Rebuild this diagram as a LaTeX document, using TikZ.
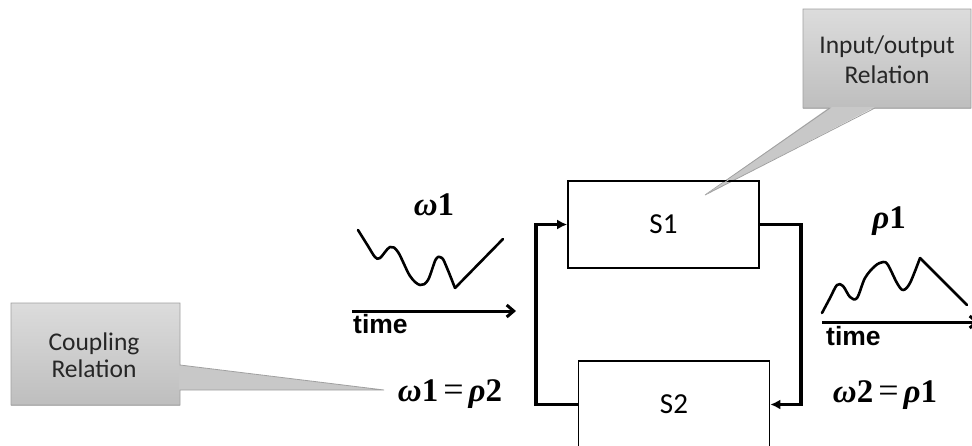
\documentclass[tikz,border=0pt]{standalone}
\usepackage{fontspec}
\setmainfont{Carlito}
\newfontfamily\serifgr{Liberation Serif}
\newfontfamily\axisfont{Liberation Sans}
\usetikzlibrary{arrows.meta}

\definecolor{calloutTop}{HTML}{DCDCDC}
\definecolor{calloutBot}{HTML}{BEBEBE}
\definecolor{calloutMid}{HTML}{C8C8C8}
\definecolor{calloutEdge}{HTML}{A0A0A0}

% signal symbol: bold italic Greek letter followed by a bold index
\newcommand{\sigsym}[2]{{\serifgr\bfseries\itshape #1}{\serifgr\bfseries #2}}
% equals sign with the spacing used in the coupling equations
\newcommand{\sigeq}{\hspace{5pt}{\serifgr\fontsize{36}{36}\selectfont=}\hspace{5pt}}

\begin{document}
\begin{tikzpicture}[x=1pt,y=-1pt,
  sysbox/.style={draw, line width=1.6pt, minimum width=191pt, minimum height=87pt,
    inner sep=0pt, font=\fontsize{29}{30}\selectfont},
  wire/.style={line width=3.8pt, -{Latex[length=10pt,width=10pt]}},
  timeaxis/.style={line width=3pt, -{Straight Barb[length=7pt,width=12pt]}},
  timelabel/.style={inner sep=0pt, font=\axisfont\bfseries\fontsize{26.5}{27}\selectfont},
  signal/.style={line width=2.6pt, line join=round, line cap=round},
  siglabel/.style={inner sep=0pt, font=\fontsize{33}{34}\selectfont},
  callouttext/.style={align=center, inner sep=0pt, text=black!85, font=\fontsize{25.5}{30}\selectfont},
  calloutline/.style={draw=calloutEdge, line width=0.8pt, line join=miter}
]
\useasboundingbox (0,0) rectangle (972,445);
\clip (0,0) rectangle (972,445);

% ---- input/output relation callout
\fill[top color=calloutTop, bottom color=calloutBot] (803,9) rectangle (971,108);
\fill[calloutMid] (830,107) -- (705,195) -- (875,107) -- cycle;
\draw[calloutline] (803,9) -- (971,9) -- (971,108) -- (875,108) -- (705,195)
  -- (830,108) -- (803,108) -- cycle;
\node[callouttext] (io) at (887,60) {Input/output\\Relation};

% ---- coupling relation callout
\fill[top color=calloutTop, bottom color=calloutBot] (11,303) rectangle (180,405);
\fill[calloutMid] (179,365) -- (384,390) -- (179,390) -- cycle;
\draw[calloutline] (11,303) -- (180,303) -- (180,365) -- (384,390) -- (180,390)
  -- (180,405) -- (11,405) -- cycle;
\node[callouttext, font=\fontsize{25.5}{27}\selectfont] (cp) at (94,355) {Coupling\\Relation};

% ---- the two systems
\node[sysbox] (s1) at (663.5,224.5) {S1};
\node[sysbox] (s2) at (674,404.5) {S2};
% redraw the callout tip over the top edge of S1
\fill[calloutMid] (735,175) -- (705,195) -- (745,170) -- cycle;

% ---- feedback wiring
\draw[wire] (s2.west) -- ++(-42,0) |- (s1.west);
\draw[wire] (s1.east) -- ++(41,0) |- (s2.east);

% ---- input signal
\node[siglabel] (w1) at (434,205) {\sigsym{ω}{1}};
\draw[signal] plot[smooth, tension=0.55] coordinates {(358,230) (368,246) (375,257) (380,258)
  (390,247) (398,252) (410,276) (420,285) (428,280) (436,259) (442,258) (447,268) (455,288)};
\draw[signal] (455,288) -- (503,239);
\coordinate (a1s) at (352,311);
\coordinate (a1e) at (516,311);
\draw[timeaxis] (a1s) -- (a1e);
\node[timelabel, anchor=base west] (tm1) at (353,333) {time};

% ---- output signal
\node[siglabel] (r1) at (889,221) {\sigsym{ρ}{1}};
\draw[signal] plot[smooth, tension=0.55] coordinates {(822,313) (830,298) (837,285) (843,286)
  (850,297) (857,298) (865,278) (875,266) (883,262) (888,265) (897,283) (903,290)
  (910,283) (920,258)};
\draw[signal] (920,258) -- (967,305);
\coordinate (a2s) at (822,322);
\coordinate (a2e) at (979,322);
\draw[timeaxis] (a2s) -- (a2e);
\node[timelabel, anchor=base west] (tm2) at (826,345) {time};

% ---- coupling equations
\node[siglabel] (eq1) at (450,394) {\sigsym{ω}{1}\sigeq\sigsym{ρ}{2}};
\node[siglabel] (eq2) at (885,395) {\sigsym{ω}{2}\sigeq\sigsym{ρ}{1}};
\end{tikzpicture}
\end{document}
